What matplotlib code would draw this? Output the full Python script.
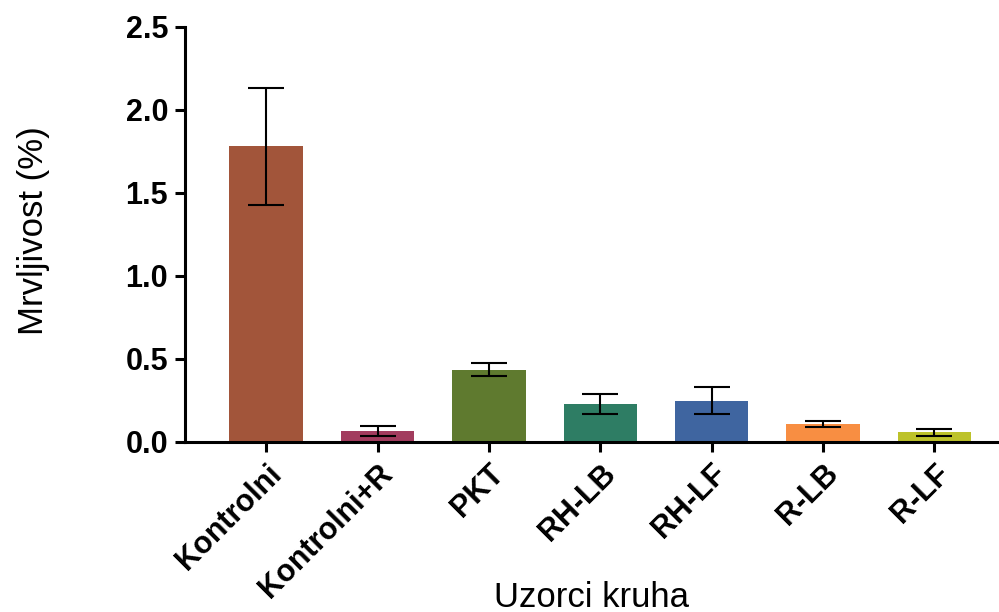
import matplotlib as mpl
import matplotlib.pyplot as plt
import numpy as np

mpl.rcParams['font.family'] = ['Liberation Sans', 'DejaVu Sans']

samples = ["Kontrolni", "Kontrolni+R", "PKT", "RH-LB", "RH-LF", "R-LB", "R-LF"]
means = [1.78, 0.066, 0.435, 0.228, 0.248, 0.107, 0.057]
errors = [0.35, 0.03, 0.04, 0.06, 0.08, 0.02, 0.02]
colors = ["#A2553A", "#A23C5E", "#5F7A2F", "#2E7D64", "#3F65A0", "#F88E42", "#BDC22A"]

fig = plt.figure(figsize=(9.99, 6.12), dpi=100)
ax = fig.add_axes([0.185, 0.278, 0.815, 0.678])

x = np.arange(len(samples))
ax.bar(x, means, width=0.66, color=colors, edgecolor="none", zorder=2)
ax.errorbar(x, means, yerr=errors, fmt="none", ecolor="black",
            elinewidth=1.5, capsize=13, capthick=1.5, zorder=3)

ax.set_xlim(-0.73, 6.58)
ax.set_ylim(0, 2.5)
ax.set_yticks([0, 0.5, 1.0, 1.5, 2.0, 2.5])
ax.set_yticklabels(["0.0", "0.5", "1.0", "1.5", "2.0", "2.5"])
ax.set_xticks(x)
ax.set_xticklabels(samples, rotation=45, ha="right", rotation_mode="anchor")

for s in ["top", "right"]:
    ax.spines[s].set_visible(False)
for s in ["left", "bottom"]:
    ax.spines[s].set_linewidth(2.2)

ax.tick_params(axis="both", width=2.2, length=7, pad=5)
ax.tick_params(axis="y", labelsize=22)
ax.tick_params(axis="x", labelsize=22)
for lab in ax.get_xticklabels() + ax.get_yticklabels():
    lab.set_fontweight("bold")

ax.set_ylabel("Mrvljivost (%)", fontsize=25)
ax.yaxis.set_label_coords(-0.165, 0.51)
ax.set_xlabel("Uzorci kruha", fontsize=25)
ax.xaxis.set_label_coords(0.5, -0.335)

fig.savefig("out.png", dpi=100)
